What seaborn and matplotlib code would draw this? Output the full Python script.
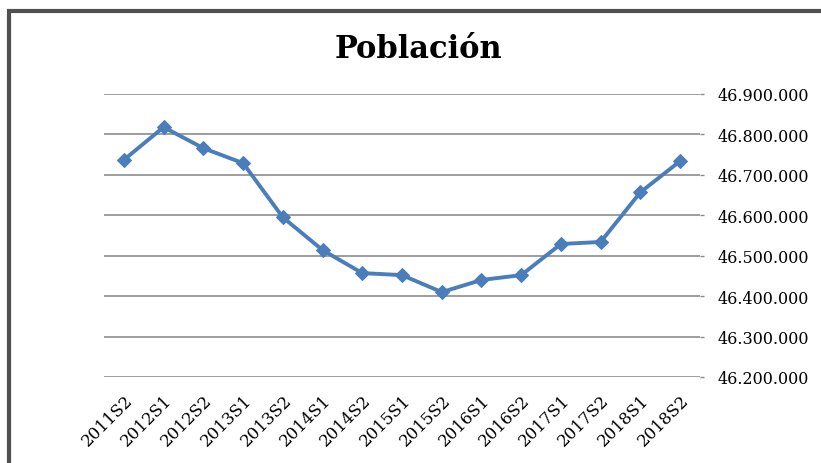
import matplotlib
matplotlib.use('Agg')
import matplotlib.pyplot as plt
import matplotlib.ticker as mticker
from matplotlib.patches import Rectangle
import seaborn as sns
import pandas as pd

periodos = ['2011S2', '2012S1', '2012S2', '2013S1', '2013S2', '2014S1', '2014S2',
            '2015S1', '2015S2', '2016S1', '2016S2', '2017S1', '2017S2', '2018S1', '2018S2']
poblacion = [46737000, 46818000, 46766000, 46729000, 46595000, 46514000, 46457000,
             46452000, 46410000, 46440000, 46452000, 46529000, 46534000, 46657000, 46734000]
y_ticks = [46200000, 46300000, 46400000, 46500000, 46600000, 46700000, 46800000, 46900000]

df = pd.DataFrame({'Periodo': periodos, 'Poblacion': poblacion})

sns.set_style('white')
plt.rcParams['font.family'] = ['DejaVu Serif']
plt.rcParams['text.color'] = 'black'
plt.rcParams['xtick.color'] = '#8c8c8c'
plt.rcParams['ytick.color'] = '#8c8c8c'
plt.rcParams['xtick.labelcolor'] = 'black'
plt.rcParams['ytick.labelcolor'] = 'black'

fig = plt.figure(figsize=(8.21, 4.64), dpi=100)
ax = fig.add_axes([104 / 821, 1 - 378 / 464, 596 / 821, 283 / 464])

sns.lineplot(data=df, x='Periodo', y='Poblacion', sort=False, ax=ax,
             color='#4A7EBB', linewidth=2.8, marker='D', markersize=7,
             markeredgecolor='#4A7EBB')

ax.set_xlim(-0.5, len(periodos) - 0.5)
ax.set_ylim(y_ticks[0], y_ticks[-1])
ax.set_yticks(y_ticks)
ax.yaxis.tick_right()
ax.yaxis.set_major_formatter(mticker.FuncFormatter(lambda v, p: f'{int(v):,}'.replace(',', '.')))
ax.grid(axis='y', color='#8c8c8c', linewidth=1.2)
ax.set_axisbelow(True)
for s in ax.spines.values():
    s.set_visible(False)
ax.set_xlabel('')
ax.set_ylabel('')
ax.tick_params(axis='y', length=3, width=1, pad=10, labelsize=11.5)
ax.tick_params(axis='x', length=0, pad=10, labelsize=12)
plt.setp(ax.get_xticklabels(), rotation=45, ha='right', rotation_mode='anchor')

fig.text(418 / 821, 1 - 50 / 464, 'Población', ha='center', va='center',
         fontsize=22, fontweight='bold')

fig.patches.append(Rectangle((9 / 821, -0.05), 1.1, 1 - 12 / 464 + 0.05,
                             transform=fig.transFigure, fill=False,
                             edgecolor='#505050', linewidth=3))

fig.savefig('out.png', dpi=100)
